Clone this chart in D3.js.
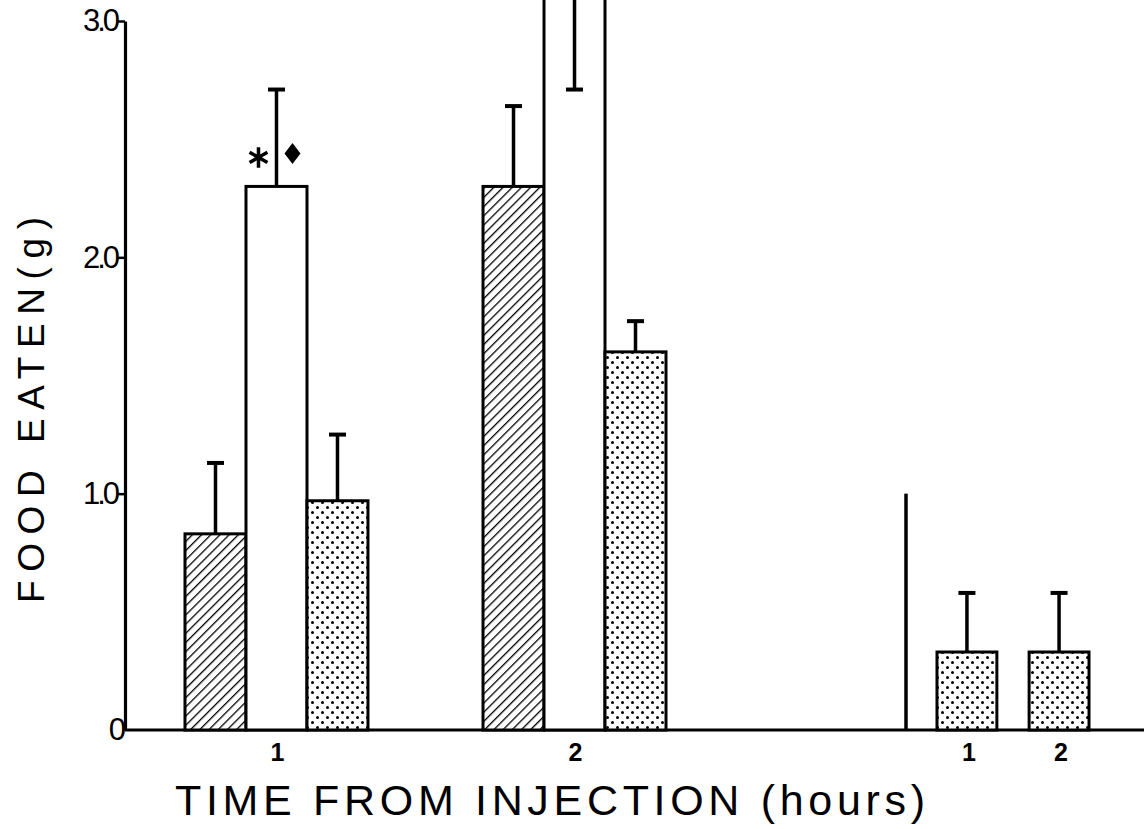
<!DOCTYPE html>
<html>
<head>
<meta charset="utf-8">
<script src="https://cdn.jsdelivr.net/npm/d3@7"></script>
<style>
  html, body { margin: 0; padding: 0; background: #fff; }
  svg { display: block; }
</style>
</head>
<body>
<svg id="chart" width="1144" height="829"></svg>
<script>
// Food intake after injection, grouped by hour, three conditions per hour
const groups = ["1", "2"];
const seriesKeys = ["A", "B", "C"];
const meansA = [0.83, 2.30];
const meansB = [2.30, 3.30];
const meansC = [0.97, 1.60];
const semA = [0.30, 0.34];
const semB = [0.41, 0.59];
const semC = [0.28, 0.13];

// Separate right-hand panel: condition C only
const laterGroups = ["1", "2"];
const laterMeans = [0.33, 0.33];
const laterSem = [0.25, 0.25];

const yTicks = [0, 1, 2, 3];
const yTickLabels = ["0", "1.0", "2.0", "3.0"];
const yTitle = "FOOD EATEN(g)";
const xTitle = "TIME FROM INJECTION (hours)";

const W = 1144, H = 829;
const svg = d3.select("#chart");
svg.append("rect").attr("width", W).attr("height", H).attr("fill", "#fff");

const font = "'Liberation Sans', Arial, sans-serif";

// Fill patterns
const defs = svg.append("defs");
const hatch = defs.append("pattern")
  .attr("id", "hatch").attr("patternUnits", "userSpaceOnUse")
  .attr("width", 6.5).attr("height", 6.5)
  .attr("patternTransform", "rotate(45)");
hatch.append("rect").attr("width", 6.5).attr("height", 6.5).attr("fill", "#fff");
hatch.append("line").attr("x1", 0).attr("y1", 0).attr("x2", 0).attr("y2", 6.5)
  .attr("stroke", "#000").attr("stroke-width", 2.6);

const dots = defs.append("pattern")
  .attr("id", "dots").attr("patternUnits", "userSpaceOnUse")
  .attr("width", 10).attr("height", 10);
dots.append("rect").attr("width", 10).attr("height", 10).attr("fill", "#fff");
[[2.5, 2.5], [7.5, 7.5]].forEach(([cx, cy]) =>
  dots.append("circle").attr("cx", cx).attr("cy", cy).attr("r", 1.5).attr("fill", "#000"));

const fills = { A: "url(#hatch)", B: "#fff", C: "url(#dots)" };

// Scales
const y = d3.scaleLinear().domain([0, 3]).range([730, 21]);
const xGroup = d3.scaleBand().domain(groups).range([185, 666]).paddingInner(0.386);
const xSeries = d3.scaleBand().domain(seriesKeys).range([0, xGroup.bandwidth()]);
const x2 = d3.scaleBand().domain(laterGroups).range([937, 1089]).paddingInner(0.35);

const ink = "#000";
const capW = 17;

// Table built from the arrays
const means = { A: meansA, B: meansB, C: meansC };
const sems = { A: semA, B: semB, C: semC };
const rows = [];
groups.forEach((g, i) => seriesKeys.forEach(k =>
  rows.push({ group: g, key: k, mean: means[k][i], sem: sems[k][i] })));

// Baseline
svg.append("line")
  .attr("x1", 125).attr("x2", W).attr("y1", y(0)).attr("y2", y(0))
  .attr("stroke", ink).attr("stroke-width", 3);

// Left axis
const axis = d3.axisLeft(y).tickValues(yTicks)
  .tickFormat((d, i) => yTickLabels[i]).tickSize(8).tickSizeOuter(0).tickPadding(0);
const ax = svg.append("g").attr("transform", "translate(125,0)").call(axis);
ax.attr("font-size", null).attr("font-family", null);
ax.select(".domain").attr("stroke", ink).attr("stroke-width", 3.2);
ax.selectAll(".tick line").attr("stroke", ink).attr("stroke-width", 2.5)
  .filter(d => d === 0).remove();
ax.selectAll(".tick text")
  .style("font-family", font).style("font-size", "31px").attr("fill", ink)
  .attr("letter-spacing", -3)
  .filter(d => d === 0).attr("x", -2);

// Bars, panel 1
const bars = svg.append("g");
bars.selectAll("rect").data(rows).join("rect")
  .attr("x", d => xGroup(d.group) + xSeries(d.key))
  .attr("width", xSeries.bandwidth())
  .attr("y", d => y(d.mean))
  .attr("height", d => y(0) - y(d.mean))
  .attr("fill", d => fills[d.key])
  .attr("stroke", ink).attr("stroke-width", 3);

// Error bars: upward, or downward where the mean runs off the top of the axis
const errs = svg.append("g").attr("stroke", ink);
rows.forEach(d => {
  const cx = xGroup(d.group) + xSeries(d.key) + xSeries.bandwidth() / 2;
  const end = d.mean > y.domain()[1] ? d.mean - d.sem : d.mean + d.sem;
  errs.append("line").attr("x1", cx).attr("x2", cx)
    .attr("y1", y(d.mean)).attr("y2", y(end)).attr("stroke-width", 3.5);
  errs.append("line").attr("x1", cx - capW / 2).attr("x2", cx + capW / 2)
    .attr("y1", y(end)).attr("y2", y(end)).attr("stroke-width", 4);
});

// Significance marks over condition B at hour 1
const sig = rows.find(d => d.group === "1" && d.key === "B");
const sigX = xGroup(sig.group) + xSeries(sig.key) + xSeries.bandwidth() / 2;
const sigY = y(sig.mean);
svg.append("path")
  .attr("d", d3.symbol(d3.symbolAsterisk, 300)())
  .attr("transform", `translate(${sigX - 18},${sigY - 29})`)
  .attr("fill", "none").attr("stroke", ink).attr("stroke-width", 3.5);
svg.append("path")
  .attr("d", d3.symbol(d3.symbolDiamond, 127)())
  .attr("transform", `translate(${sigX + 16},${sigY - 33}) scale(1.32,1)`)
  .attr("fill", ink);

// Panel 2 axis stub and bars
svg.append("line")
  .attr("x1", x2.range()[0] - 31).attr("x2", x2.range()[0] - 31)
  .attr("y1", y(1)).attr("y2", y(0))
  .attr("stroke", ink).attr("stroke-width", 3.5);

const later = laterGroups.map((g, i) => ({ group: g, mean: laterMeans[i], sem: laterSem[i] }));
svg.append("g").selectAll("rect").data(later).join("rect")
  .attr("x", d => x2(d.group)).attr("width", x2.bandwidth())
  .attr("y", d => y(d.mean)).attr("height", d => y(0) - y(d.mean))
  .attr("fill", fills.C).attr("stroke", ink).attr("stroke-width", 3);
later.forEach(d => {
  const cx = x2(d.group) + x2.bandwidth() / 2;
  errs.append("line").attr("x1", cx).attr("x2", cx)
    .attr("y1", y(d.mean)).attr("y2", y(d.mean + d.sem)).attr("stroke-width", 3.5);
  errs.append("line").attr("x1", cx - capW / 2).attr("x2", cx + capW / 2)
    .attr("y1", y(d.mean + d.sem)).attr("y2", y(d.mean + d.sem)).attr("stroke-width", 4);
});

// Hour labels under each group
const xl = svg.append("g").attr("font-family", font).attr("font-size", 25)
  .attr("font-weight", "bold").attr("text-anchor", "middle").attr("fill", ink);
groups.forEach(g => xl.append("text")
  .attr("x", xGroup(g) + xGroup.bandwidth() / 2 + 1).attr("y", 761).text(g));
laterGroups.forEach(g => xl.append("text")
  .attr("x", x2(g) + x2.bandwidth() / 2 + 2).attr("y", 761).text(g));

// Axis titles
svg.append("text")
  .attr("x", 175).attr("y", 815)
  .attr("font-family", font).attr("font-size", 43).attr("fill", ink)
  .attr("textLength", 750).attr("lengthAdjust", "spacing")
  .text(xTitle);

svg.append("text")
  .attr("transform", "translate(44,410) rotate(-90)")
  .attr("text-anchor", "middle")
  .attr("font-family", font).attr("font-size", 37).attr("fill", ink)
  .attr("textLength", 386).attr("lengthAdjust", "spacing")
  .text(yTitle);
</script>
</body>
</html>
